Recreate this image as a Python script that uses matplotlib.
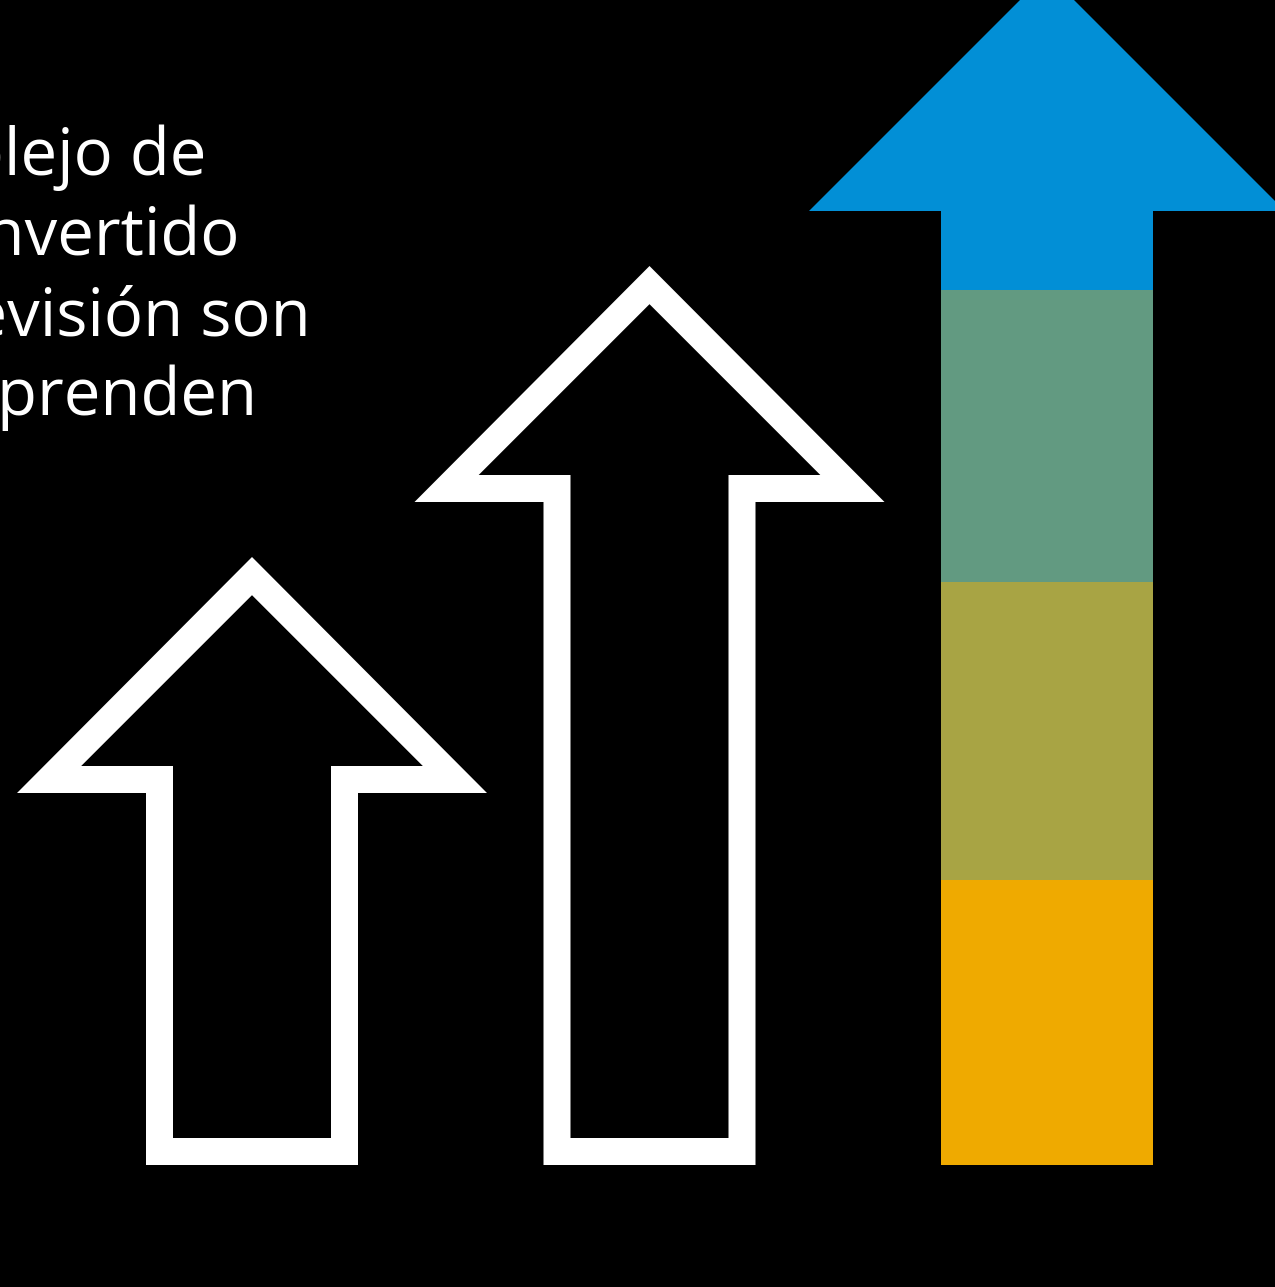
import numpy as np
import matplotlib
matplotlib.use("Agg")
import matplotlib.pyplot as plt
from matplotlib.patches import Polygon

# texto (el inicio de cada linea queda fuera del cuadro)
lineas = ["complejo de", "convertido", "televisión son", "emprenden"]

# flechas: centro, altura de la punta
centros = [252, 649.5, 1047]
alturas = [608, 899, 1192]

# tramos de la flecha de color, de abajo hacia arriba
tramos = [285, 298, 292]
colores_tramos = ["#EFAA00", "#A8A444", "#629A81"]
color_punta = "#028FD6"

fig = plt.figure(figsize=(12.75, 12.87), dpi=100, facecolor="black")
ax = fig.add_axes([0, 0, 1, 1])
ax.set_facecolor("black")
ax.set_xlim(0, 1275)
ax.set_ylim(1165 - 1287, 1165)
ax.axis("off")

semi = 106      # medio ancho del cuerpo
cabeza = 236    # alto de la cabeza
grosor = 27     # grosor del contorno


def flecha(c, T, s, h, H):
    return [(c - s, 0), (c - s, T - H), (c - h, T - H), (c, T),
            (c + h, T - H), (c + s, T - H), (c + s, 0)]


# flechas de contorno blanco
for c, T in zip(centros[:2], alturas[:2]):
    ax.add_patch(Polygon(flecha(c, T, semi, cabeza - 1, cabeza), closed=True,
                         facecolor="white", edgecolor="none"))
    t = grosor
    d = t * np.sqrt(2)
    xi = cabeza - t - d
    interior = [(c - semi + t, t), (c - semi + t, T - cabeza + t),
                (c - xi, T - cabeza + t), (c, T - d),
                (c + xi, T - cabeza + t), (c + semi - t, T - cabeza + t),
                (c + semi - t, t)]
    ax.add_patch(Polygon(interior, closed=True, facecolor="black", edgecolor="none"))

# flecha de color
c3, T3 = centros[2], alturas[2]
H3 = 238
ax.add_patch(Polygon(flecha(c3, T3, semi, H3, H3), closed=True,
                     facecolor=color_punta, edgecolor="none"))
base = 0
for v, col in zip(tramos, colores_tramos):
    ax.bar(c3, v, width=2 * semi, bottom=base, color=col, linewidth=0)
    base += v

# texto
fin_x = [206, 240, 311, 258]
for i, (txt, x) in enumerate(zip(lineas, fin_x)):
    ax.text(x, 1165 - 175 - 80 * i, txt, ha="right", va="baseline",
            color="white", fontsize=47, family="Open Sans", clip_on=False)

fig.savefig("out.png", dpi=100, facecolor="black")
